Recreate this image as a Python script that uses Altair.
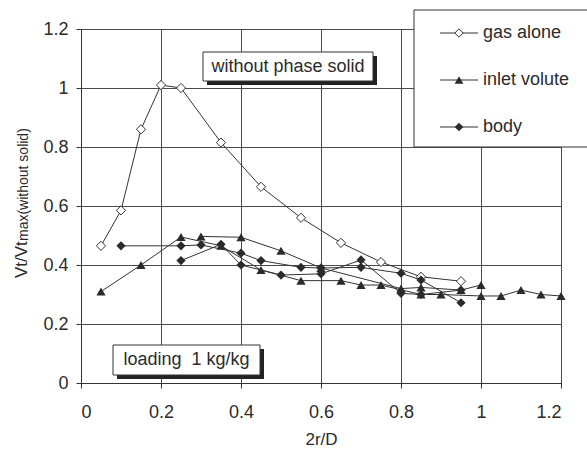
import altair as alt
import pandas as pd

FONT = "Liberation Sans"
INK = "#2b2b2b"

x_ticks = [0, 0.2, 0.4, 0.6, 0.8, 1.0, 1.2]
y_ticks = [0, 0.2, 0.4, 0.6, 0.8, 1.0, 1.2]
legend_labels = ["gas alone", "inlet volute", "body"]

gas_x = [0.05, 0.1, 0.15, 0.2, 0.25, 0.35, 0.45, 0.55, 0.65, 0.75, 0.85, 0.95]
gas_y = [0.465, 0.585, 0.86, 1.01, 1.0, 0.815, 0.665, 0.56, 0.475, 0.41, 0.36, 0.345]

inlet1_x = [0.05, 0.15, 0.25, 0.35, 0.45, 0.55, 0.65, 0.7, 0.75, 0.85, 0.9, 1.0, 1.05, 1.1, 1.15, 1.2]
inlet1_y = [0.31, 0.40, 0.495, 0.465, 0.383, 0.347, 0.347, 0.332, 0.332, 0.30, 0.30, 0.295, 0.295, 0.315, 0.30, 0.295]
inlet2_x = [0.3, 0.4, 0.5, 0.6, 0.8, 0.85, 0.95, 1.0]
inlet2_y = [0.497, 0.494, 0.448, 0.39, 0.32, 0.324, 0.315, 0.332]

body1_x = [0.1, 0.25, 0.3, 0.4, 0.45, 0.55, 0.6, 0.7, 0.8, 0.85, 0.95]
body1_y = [0.465, 0.465, 0.468, 0.44, 0.415, 0.392, 0.39, 0.392, 0.372, 0.349, 0.272]
body2_x = [0.25, 0.35, 0.4, 0.5, 0.6, 0.7, 0.8, 0.85, 0.95]
body2_y = [0.415, 0.47, 0.40, 0.366, 0.37, 0.417, 0.304, 0.30, 0.315]

series = [
    ("inlet1", "tri", inlet1_x, inlet1_y),
    ("inlet2", "tri", inlet2_x, inlet2_y),
    ("body1", "dia", body1_x, body1_y),
    ("body2", "dia", body2_x, body2_y),
    ("gas", "open", gas_x, gas_y),
]
rows = []
for sid, kind, xs, ys in series:
    for i, (xv, yv) in enumerate(zip(xs, ys)):
        rows.append({"s": sid, "kind": kind, "x": xv, "y": yv, "o": i})
df = pd.DataFrame(rows)

xsc = alt.Scale(domain=[0, 1.2], nice=False, zero=False)
ysc = alt.Scale(domain=[0, 1.2], nice=False, zero=False)

xax = alt.Axis(values=x_ticks, format="~g", title="2r/D", grid=True,
               labelPadding=15, titlePadding=10)
yax = alt.Axis(values=y_ticks, format="~g", title=None, grid=True,
               labelPadding=8)

base = alt.Chart(df)
X = alt.X("x:Q", scale=xsc, axis=xax)
Y = alt.Y("y:Q", scale=ysc, axis=yax)

lines = base.mark_line(color="#333333", strokeWidth=1).encode(
    x=X, y=Y, detail="s:N", order="o:Q")

tri_pts = base.transform_filter(alt.datum.kind == "tri").mark_point(
    shape="triangle-up", filled=True, color=INK, size=85, opacity=1).encode(x=X, y=Y)
dia_pts = base.transform_filter(alt.datum.kind == "dia").mark_point(
    shape="diamond", filled=True, color=INK, size=85, opacity=1).encode(x=X, y=Y)
open_pts = base.transform_filter(alt.datum.kind == "open").mark_point(
    shape="diamond", filled=True, fill="white", stroke="#333333", strokeWidth=1,
    size=85, opacity=1).encode(x=X, y=Y)

one = pd.DataFrame({"a": [0]})


def rect(x1, x2, y1, y2, fill, stroke=None):
    kw = dict(fill=fill)
    if stroke:
        kw.update(stroke=stroke, strokeWidth=1)
    return alt.Chart(one).mark_rect(**kw).encode(
        x=alt.value(x1), x2=alt.value(x2), y=alt.value(y1), y2=alt.value(y2))


def text(t, x, y, size=18, align="left", angle=0, baseline="middle"):
    kw = dict(font=FONT, fontSize=size, color=INK, align=align, baseline=baseline)
    if angle:
        kw["angle"] = angle
    return alt.Chart(one).mark_text(**kw).encode(
        x=alt.value(x), y=alt.value(y), text=alt.value(t))


annots = []
# "without phase solid" box with shadow
annots += [rect(126, 296, 27, 56, "#222222"),
           rect(122, 292, 23, 52, "white", "#333333"),
           text("without phase solid", 207, 38, align="center")]
# "loading 1 kg/kg" box with shadow
annots += [rect(36, 183, 320, 350, "#222222"),
           rect(32, 179, 316, 346, "white", "#333333"),
           text("loading\u00a0\u00a01 kg/kg", 105.5, 331, align="center")]

# legend box
leg = [rect(333, 540, -19, 118, "white", "#333333")]
leg_y = [4, 51, 98]
shapes = [("diamond", True), ("triangle-up", False), ("diamond", False)]
for lab, ly, (shp, hollow) in zip(legend_labels, leg_y, shapes):
    leg.append(alt.Chart(one).mark_rule(color="#333333", strokeWidth=1).encode(
        x=alt.value(359), x2=alt.value(397), y=alt.value(ly)))
    if hollow:
        leg.append(alt.Chart(one).mark_point(shape=shp, filled=True, fill="white",
                                             stroke="#333333", strokeWidth=1, size=70,
                                             opacity=1).encode(x=alt.value(378), y=alt.value(ly)))
    else:
        leg.append(alt.Chart(one).mark_point(shape=shp, filled=True, color=INK, size=75,
                                             opacity=1).encode(x=alt.value(378), y=alt.value(ly)))
    leg.append(text(lab, 402, ly))

# y-axis title with subscript
ytitle = [text("Vt/Vt", -54, 249, size=17, angle=270, baseline="alphabetic"),
          text("max(without solid)", -53, 212, size=14, angle=270, baseline="alphabetic")]

chart = alt.layer(lines, open_pts, tri_pts, dia_pts, *annots, *leg, *ytitle).properties(
    width=480, height=354,
    autosize=alt.AutoSizeParams(type="none"),
    padding={"left": 81, "top": 29, "right": 26, "bottom": 68},
).configure_view(strokeWidth=0).configure_axis(
    labelFont=FONT, labelFontSize=18, labelColor=INK,
    titleFont=FONT, titleFontSize=17, titleColor=INK, titleFontWeight="normal",
    tickColor="#333333", tickSize=5, domainColor="#333333",
    gridColor="#4a4a4a", gridOpacity=1,
)

chart.save("out.html", embed_options={"renderer": "svg", "actions": False})
